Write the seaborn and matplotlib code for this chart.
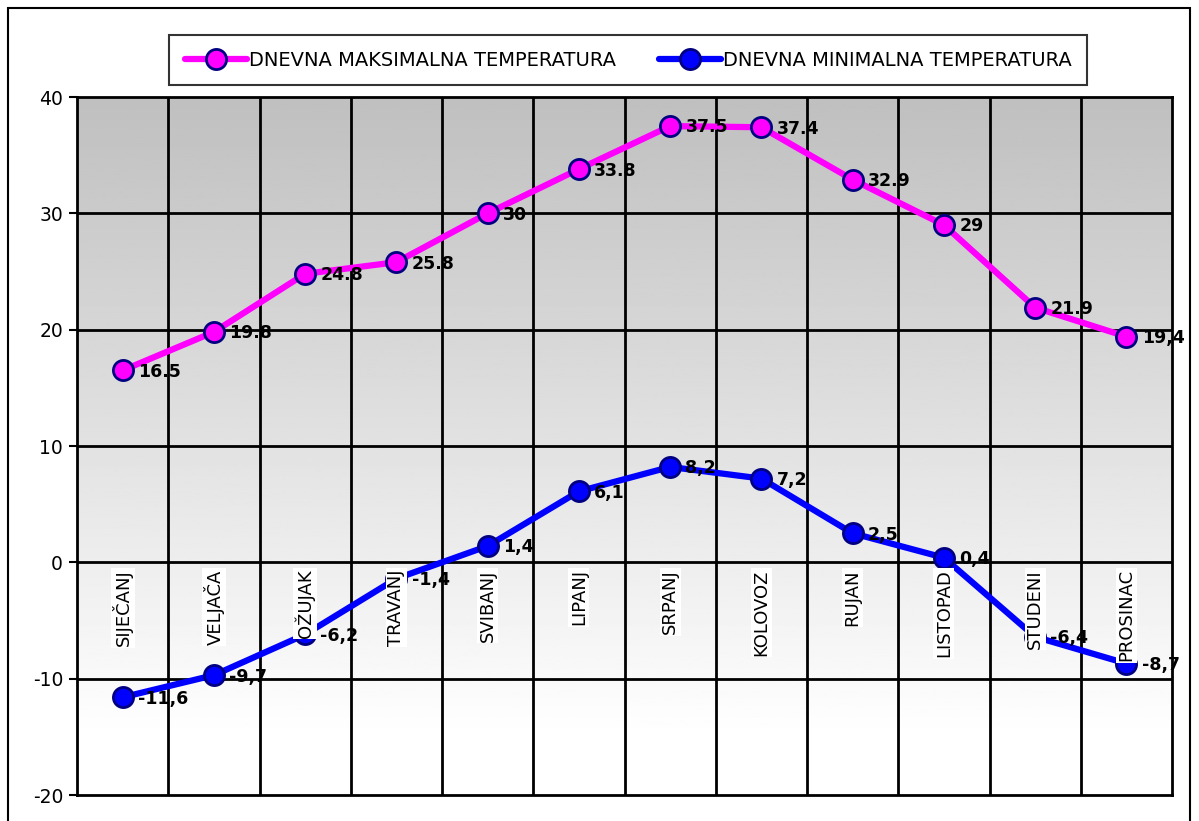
from matplotlib import pyplot as plt
from matplotlib.patches import Rectangle
import numpy as np
import pandas as pd
import seaborn as sns

MONTHS = ["SIJEČANJ", "VELJAČA", "OŽUJAK", "TRAVANJ", "SVIBANJ", "LIPANJ",
          "SRPANJ", "KOLOVOZ", "RUJAN", "LISTOPAD", "STUDENI", "PROSINAC"]
T_MAX = [16.5, 19.8, 24.8, 25.8, 30, 33.8, 37.5, 37.4, 32.9, 29, 21.9, 19.4]
T_MIN = [-11.6, -9.7, -6.2, -1.4, 1.4, 6.1, 8.2, 7.2, 2.5, 0.4, -6.4, -8.7]
MAX_LABELS = ["16.5", "19.8", "24.8", "25.8", "30", "33.8", "37.5", "37.4",
              "32.9", "29", "21.9", "19,4"]
MIN_LABELS = ["-11,6", "-9,7", "-6,2", "-1,4", "1,4", "6,1", "8,2", "7,2",
              "2,5", "0,4", "-6,4", "-8,7"]
Y_TICKS = [-20, -10, 0, 10, 20, 30, 40]

sns.set_style("white")
plt.rcParams["font.family"] = ["DejaVu Sans"]
plt.rcParams["text.color"] = "black"
plt.rcParams["ytick.color"] = "black"
plt.rcParams["axes.unicode_minus"] = False

df = pd.DataFrame({"idx": np.arange(len(MONTHS)), "max": T_MAX, "min": T_MIN})

fig = plt.figure(figsize=(11.99, 8.21), dpi=100)
ax = fig.add_axes([77 / 1199, 1 - 795 / 821, (1172 - 77) / 1199, (795 - 97) / 821])

# outer frame
fig.patches.append(Rectangle((8 / 1199, -0.05), (1190 - 8) / 1199, 1 - 8 / 821 + 0.05,
                             transform=fig.transFigure, fill=False, edgecolor="black",
                             linewidth=1.5))

# grey-to-white gradient background (white below about -15)
grad = np.clip(np.linspace(0.75, 1.0 + 0.25 * 5 / 55, 256), 0, 1).reshape(-1, 1)
ax.imshow(grad, cmap="gray", vmin=0, vmax=1, aspect="auto",
          extent=[-0.5, len(MONTHS) - 0.5, -20, 40], origin="upper", zorder=0)

# grid lines
for v in np.arange(0.5, len(MONTHS) - 0.5, 1):
    ax.axvline(v, color="black", lw=2, zorder=1)
for h in Y_TICKS[1:-1]:
    ax.axhline(h, color="black", lw=2, zorder=1)

sns.lineplot(data=df, x="idx", y="max", ax=ax, color="#ff00ff", lw=4.5, marker="o",
             markersize=14.5, markerfacecolor="#ff00ff", markeredgecolor="#000080",
             markeredgewidth=2, label="DNEVNA MAKSIMALNA TEMPERATURA", zorder=3)
sns.lineplot(data=df, x="idx", y="min", ax=ax, color="#0000ff", lw=4.5, marker="o",
             markersize=14.5, markerfacecolor="#0000ff", markeredgecolor="#000080",
             markeredgewidth=2, label="DNEVNA MINIMALNA TEMPERATURA", zorder=3)

for i, (vmax, vmin) in enumerate(zip(T_MAX, T_MIN)):
    ax.annotate(MAX_LABELS[i], (i, vmax), xytext=(11, -1), textcoords="offset points",
                fontsize=12.5, fontweight="bold", va="center", ha="left", zorder=4)
    ax.annotate(MIN_LABELS[i], (i, vmin), xytext=(11, -1), textcoords="offset points",
                fontsize=12.5, fontweight="bold", va="center", ha="left", zorder=4)

# month labels below the zero line
for i, m in enumerate(MONTHS):
    ax.text(i, -0.6, m, rotation=90, ha="center", va="top", fontsize=13, zorder=5,
            bbox=dict(facecolor="white", edgecolor="none", pad=1))

ax.set_xlim(-0.5, len(MONTHS) - 0.5)
ax.set_ylim(-20, 40)
ax.set_yticks(Y_TICKS)
ax.set_xticks([])
ax.set_xlabel("")
ax.set_ylabel("")
ax.tick_params(axis="y", left=True, length=6, width=1.5, labelsize=13.5, pad=4)
for s in ax.spines.values():
    s.set_color("black")
    s.set_linewidth(2)

ax.legend(loc="center", bbox_to_anchor=((150 + 1106) / 2 / 1199, 1 - 60 / 821),
          bbox_transform=fig.transFigure, ncol=2, frameon=True, fancybox=False,
          edgecolor="black", fontsize=14, handlelength=3.2, handletextpad=0.1,
          columnspacing=2.2, borderpad=0.8, borderaxespad=0)
ax.get_legend().get_frame().set_linewidth(1.5)

fig.savefig("out.png", dpi=100)
